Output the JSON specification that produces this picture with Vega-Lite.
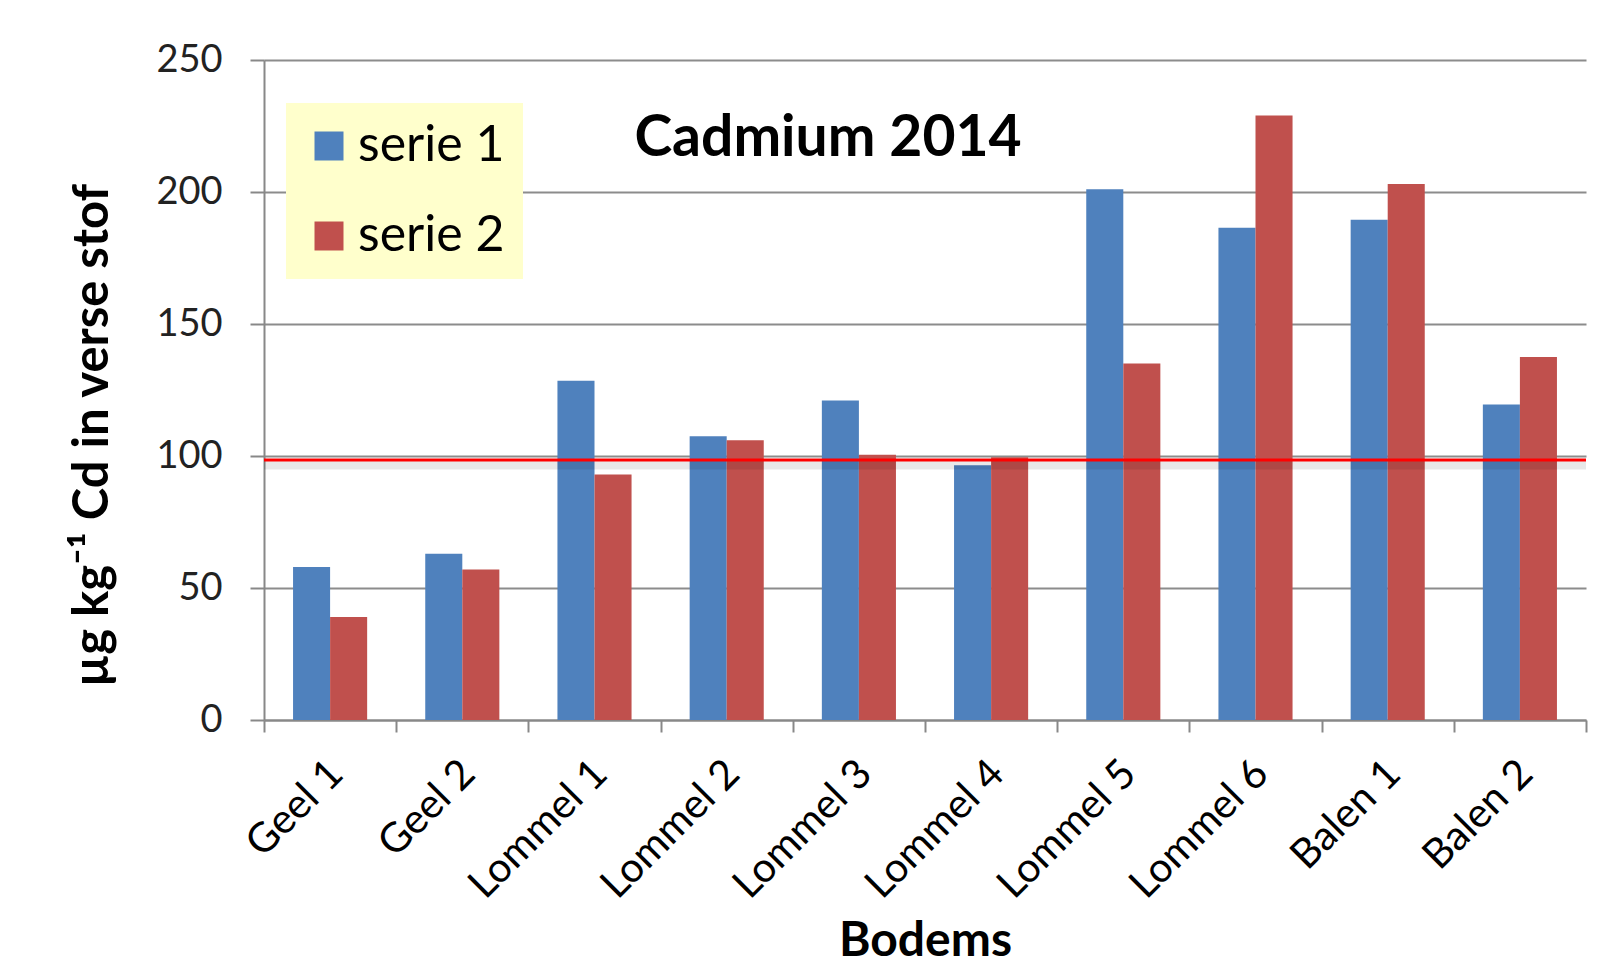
{
  "$schema": "https://vega.github.io/schema/vega-lite/v6.json",
  "width": 1322,
  "height": 660,
  "autosize": {"type": "none"},
  "padding": {"left": 264, "top": 60, "right": 20, "bottom": 250},
  "background": "white",
  "config": {"view": {"stroke": null}, "font": "Lato"},
  "title": {"text": "Cadmium 2014", "font": "Lato", "fontSize": 57, "fontWeight": "bold", "color": "black", "anchor": "middle", "dx": -97, "dy": 172, "baseline": "alphabetic", "offset": 0},
  "datasets": {
    "bars": [
      {"bodem": "Geel 1", "serie": "serie 1", "waarde": 58},
      {"bodem": "Geel 1", "serie": "serie 2", "waarde": 39},
      {"bodem": "Geel 2", "serie": "serie 1", "waarde": 63},
      {"bodem": "Geel 2", "serie": "serie 2", "waarde": 57},
      {"bodem": "Lommel 1", "serie": "serie 1", "waarde": 128.5},
      {"bodem": "Lommel 1", "serie": "serie 2", "waarde": 93},
      {"bodem": "Lommel 2", "serie": "serie 1", "waarde": 107.5},
      {"bodem": "Lommel 2", "serie": "serie 2", "waarde": 106},
      {"bodem": "Lommel 3", "serie": "serie 1", "waarde": 121},
      {"bodem": "Lommel 3", "serie": "serie 2", "waarde": 100.5},
      {"bodem": "Lommel 4", "serie": "serie 1", "waarde": 96.5},
      {"bodem": "Lommel 4", "serie": "serie 2", "waarde": 99.5},
      {"bodem": "Lommel 5", "serie": "serie 1", "waarde": 201},
      {"bodem": "Lommel 5", "serie": "serie 2", "waarde": 135},
      {"bodem": "Lommel 6", "serie": "serie 1", "waarde": 186.5},
      {"bodem": "Lommel 6", "serie": "serie 2", "waarde": 229},
      {"bodem": "Balen 1", "serie": "serie 1", "waarde": 189.5},
      {"bodem": "Balen 1", "serie": "serie 2", "waarde": 203},
      {"bodem": "Balen 2", "serie": "serie 1", "waarde": 119.5},
      {"bodem": "Balen 2", "serie": "serie 2", "waarde": 137.5}
    ],
    "grens": [{"grens": 98.5, "schaduw": 96.6}]
  },
  "layer": [
    {
      "data": {"name": "bars"},
      "mark": {"type": "bar"},
      "encoding": {
        "x": {
          "field": "bodem", "type": "nominal", "sort": null,
          "scale": {"paddingInner": 0, "paddingOuter": 0},
          "axis": {
            "title": "Bodems", "titleFont": "Lato", "titleFontSize": 48, "titleFontWeight": "bold", "titleColor": "black",
            "titleY": 235, "titleBaseline": "alphabetic",
            "labelAngle": -45, "labelAlign": "right", "labelBaseline": "top", "labelFontSize": 41, "labelColor": "black",
            "labelPadding": 21, "labelOffset": -8, "labelOverlap": false,
            "tickBand": "extent", "tickSize": 12, "tickColor": "#888888", "tickWidth": 2,
            "domainColor": "#888888", "domainWidth": 2, "grid": false
          }
        },
        "xOffset": {"field": "serie", "type": "nominal", "scale": {"paddingOuter": 0.784, "paddingInner": 0}},
        "y": {
          "field": "waarde", "type": "quantitative",
          "scale": {"domain": [0, 250], "nice": false},
          "axis": {
            "title": "µg kg⁻¹ Cd in verse  stof", "titleFont": "Lato", "titleFontSize": 49, "titleFontWeight": "bold", "titleColor": "black",
            "titleX": -172, "titleY": 375, "titleAngle": -90, "titleAlign": "center", "titleBaseline": "middle",
            "values": [0, 50, 100, 150, 200, 250],
            "labelFontSize": 38, "labelColor": "#222222", "labelPadding": 28,
            "tickSize": 14, "tickColor": "#888888", "tickWidth": 2,
            "domainColor": "#888888", "domainWidth": 2,
            "gridColor": "#8c8c8c", "gridWidth": 2
          }
        },
        "color": {
          "field": "serie", "type": "nominal",
          "scale": {"domain": ["serie 1", "serie 2"], "range": ["#4F81BD", "#C0504D"]},
          "legend": {
            "title": null, "orient": "none", "legendX": 22, "legendY": 43,
            "fillColor": "#FFFFCC", "padding": 18,
            "symbolType": "square", "symbolSize": 841, "symbolStrokeWidth": 0, "symbolOpacity": 1,
            "labelFontSize": 50, "labelColor": "black", "labelOffset": 4, "labelFont": "Lato",
            "rowPadding": 40
          }
        }
      }
    },
    {
      "data": {"name": "grens"},
      "mark": {"type": "rule", "color": "#000000", "opacity": 0.09, "strokeWidth": 9},
      "encoding": {"y": {"field": "schaduw", "type": "quantitative"}}
    },
    {
      "data": {"name": "grens"},
      "mark": {"type": "rule", "color": "#FF0000", "strokeWidth": 3},
      "encoding": {"y": {"field": "grens", "type": "quantitative"}}
    }
  ]
}
